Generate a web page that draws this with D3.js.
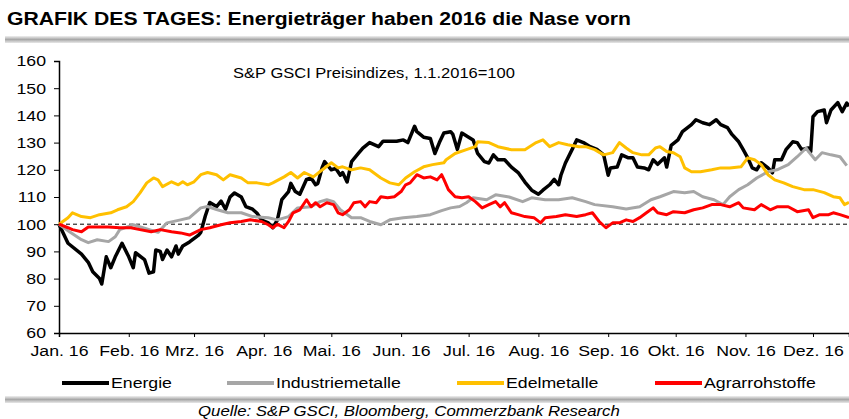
<!DOCTYPE html>
<html>
<head>
<meta charset="utf-8">
<title>Grafik des Tages</title>
<script src="https://d3js.org/d3.v7.min.js"></script>
<style>
  body { margin: 0; background: #fff; }
  text { font-family: "Liberation Sans", Arial, sans-serif; fill: #000; }
</style>
</head>
<body>
<div id="chart"></div>
<script>
// Tage seit 1.1.2016 und Indexwerte (1.1.2016 = 100)
var monate = ["Jan. 16", "Feb. 16", "Mrz. 16", "Apr. 16", "Mai. 16", "Jun. 16", "Jul. 16", "Aug. 16", "Sep. 16", "Okt. 16", "Nov. 16", "Dez. 16"];
var yTicks = [60, 70, 80, 90, 100, 110, 120, 130, 140, 150, 160];

var energieTage = [0,4,10,13,15,18,19,21,23,25,28,31,33,34,38,40,42,43,45,46,48,50,52,53,55,58,62,63,65,67,70,72,74,76,78,81,83,86,88,90,93,95,97,99,102,103,105,107,110,112,114,115,117,118,121,123,125,126,128,130,133,135,138,142,144,147,150,153,155,156,158,159,162,165,167,169,171,174,175,177,179,182,184,186,189,191,193,195,198,201,204,207,210,213,215,218,220,222,223,225,228,230,233,236,239,242,244,245,248,250,253,255,257,260,262,264,266,269,270,272,275,277,281,283,286,289,292,294,297,299,302,304,306,308,310,312,315,317,318,321,323,326,328,330,333,334,335,337,340,341,343,346,348,350,351];
var energieWerte = [100,93,89,86,82.5,80,78,88,84,88,93,88,84,89.5,87,82,82.5,90.5,90,87,90.5,88,92,89,92,93.5,96,97,103,108,106.5,108.5,105.5,110,111.5,110,106.5,105.5,104,101.5,100.5,98.7,101.5,109,112,115,112,111,116.5,117,114.5,115,121,123,120,120.5,118,119,115.5,123,126,128,130,128.5,130.5,130.5,130.5,131,130,132,136,134,132,131.5,126,130,133.5,134,133,127.5,133.5,132,131,126,123,122.5,125.5,123.7,123.7,121,119,115.5,112.5,111,112.5,114.5,116.5,114.5,118,122.5,127.5,131,130,128.5,127.5,125.5,118,120.7,121,125.5,124.4,124.4,121,120.7,120,123.7,122,124.4,121,129,131,134,136.6,138.4,137.3,136.6,138.4,136.6,135.5,133,130.3,127.4,124.4,120.7,120,122.6,120.7,118.9,123.7,123.7,127.4,130.3,130,127.4,128,126.7,139.5,141.4,142,137.3,142,144.7,141.4,144.5,143.4];

var industrieTage = [0,5,10,13,17,22,25,27,33,38,44,48,54,58,63,66,70,75,81,86,93,97,102,106,112,116,119,122,125,130,134,138,143,147,153,159,165,170,174,178,181,184,190,194,200,206,210,216,222,228,234,238,246,252,258,263,267,273,278,282,286,291,295,298,302,306,310,315,319,324,328,332,333,336,339,343,347,350];
var industrieWerte = [100,97,94.3,93.2,94.3,93.6,95.4,98,99.8,98.5,97,100.5,101.6,102.4,106,106.5,105.4,104.2,104.2,102.8,102.4,101.6,102.8,106,106.4,108.3,109,108.3,105.3,102.4,102.4,101,99.8,101.6,102.4,102.8,103.5,105,106,106.5,107.9,109.7,109,110.8,110,108.3,109.7,109,109,109.7,108.3,107.2,106.4,105.6,106.4,109,110.1,112,111.6,112,110.1,109,107.2,110.1,112.7,114.5,117,119.3,120,121.9,124.8,128,126.7,123.7,126.3,125.5,124.8,121.5];

var edelTage = [0,4,6,10,14,18,23,26,30,33,36,39,42,44,46,50,53,55,57,60,63,66,70,73,76,81,84,88,93,95,100,103,106,109,113,117,121,124,126,130,134,138,143,147,151,154,158,162,166,171,172,176,181,185,186,191,195,201,207,212,215,218,222,226,231,234,238,242,246,249,252,255,259,262,265,267,270,273,276,278,281,285,290,294,298,303,306,309,312,315,318,322,326,331,335,340,344,347,349,351];
var edelWerte = [100,102.4,104.2,102.8,102.4,103.5,104.2,105.3,106.4,108.3,111.5,115.2,117,116.3,113.8,115.6,114.5,115.6,114.5,115.6,118.2,119,118.2,116.3,118.2,117,115.2,115.2,114.5,115.2,117.4,119,117,119,117.4,120,122.6,120.7,121.1,120,120.7,120,117,115.2,114.5,117,119.3,121.1,121.9,122.6,123.7,126,127.4,128.5,130.3,130,128.5,127.4,127.4,130,131,128.5,130,129.2,128.5,128.5,127.4,125.5,126.3,130,128,126.3,125.5,125.5,128,128.5,126.7,126.3,124.8,120.7,119.3,119.3,120,120.7,120.7,121.1,124.4,123.7,121.9,118.2,116.3,115.2,113.8,112.7,112.7,111.6,110.1,109.7,107.2,108];

var agrarTage = [0,4,6,10,13,17,22,27,32,36,41,45,50,54,58,63,67,72,76,81,85,90,93,95,97,100,102,104,107,110,112,114,116,119,122,124,126,129,131,134,136,138,141,143,146,149,152,154,156,159,162,165,168,170,171,173,176,179,182,185,188,191,194,196,198,201,204,207,211,214,216,221,225,230,234,237,240,243,246,249,252,255,258,261,264,266,270,273,278,282,286,290,294,298,302,304,309,312,316,319,324,328,333,335,338,342,344,347,351];
var agrarWerte = [100,98.7,98,97.2,99,99,99,98.7,98.7,98,97.2,98,97.2,96.8,96,98,98.7,99.8,100.5,101,101.6,101,99.8,98.7,100,98.7,101,104.2,105.3,109,106.4,107.9,106.4,107.9,107.2,104.2,103.5,105.3,107.9,108.3,106.4,108.3,107.9,110.1,109.7,110.1,112,114.5,115.2,118.2,117,117.4,116.3,118.2,116.5,112.7,110.1,109.7,110.1,108.3,106,107.2,108.3,106.4,107.9,104.2,103.5,102.8,102.4,100.5,102.4,102.8,103.5,102.8,103.5,104.2,101,98.7,100.5,100.5,101.6,101,102.4,104.2,106,104.2,103.5,104.6,104.2,105.3,106,107.2,107.2,106.4,107.9,106,105.3,107.2,105.3,106.4,106.4,104.6,105.3,102.4,103.5,103.5,104.2,103.5,102.4];

var reihen = [
  { name: "Energie", farbe: "#000000", breite: 3.5, tage: energieTage, werte: energieWerte },
  { name: "Industriemetalle", farbe: "#a6a6a6", breite: 3, tage: industrieTage, werte: industrieWerte },
  { name: "Edelmetalle", farbe: "#ffc000", breite: 3, tage: edelTage, werte: edelWerte },
  { name: "Agrarrohstoffe", farbe: "#ff0000", breite: 3, tage: agrarTage, werte: agrarWerte }
];

var width = 849, height = 419;
var start = new Date(2016, 0, 1);
var ende = d3.timeDay.offset(start, 351);
var plotLeft = 59, plotRight = 849, plotTop = 61, plotBottom = 333;
var stretch = 1.18; // Schrift im Original leicht in die Breite gezogen

var svg = d3.select("#chart").append("svg").attr("width", width).attr("height", height);

var x = d3.scaleTime().domain([start, ende]).range([plotLeft, plotRight]);
var y = d3.scaleLinear().domain([60, 160]).range([plotBottom, plotTop]);

// Titel
svg.append("text").attr("x", 7).attr("y", 25)
  .style("font-size", "18px").style("font-weight", "bold")
  .attr("textLength", 624).attr("lengthAdjust", "spacingAndGlyphs")
  .text("GRAFIK DES TAGES: Energieträger haben 2016 die Nase vorn");

var grad = svg.append("defs").append("linearGradient").attr("id", "balken")
  .attr("x1", 0).attr("y1", 0).attr("x2", 0).attr("y2", 1);
grad.append("stop").attr("offset", "0%").attr("stop-color", "#f0f0f0");
grad.append("stop").attr("offset", "50%").attr("stop-color", "#a8a8a8");
grad.append("stop").attr("offset", "100%").attr("stop-color", "#e8e8e8");

svg.append("rect").attr("x", 5).attr("y", 36).attr("width", 844).attr("height", 7).attr("fill", "url(#balken)");
svg.append("rect").attr("x", 5).attr("y", 396).attr("width", 844).attr("height", 7).attr("fill", "url(#balken)");

// Achsen
var yAxis = svg.append("g").attr("transform", "translate(" + plotLeft + ",0)")
  .call(d3.axisLeft(y).tickValues(yTicks).tickSize(5).tickPadding(7));
yAxis.select(".domain").attr("stroke-width", 1.5);
yAxis.selectAll("text").style("font-size", "15px").attr("font-family", null)
  .attr("x", -13 / stretch).attr("transform", "scale(" + stretch + ",1)");

var monatsTicks = d3.timeMonth.range(start, ende);
var xAxis = svg.append("g").attr("transform", "translate(0," + plotBottom + ")")
  .call(d3.axisBottom(x).tickValues(monatsTicks).tickSize(4).tickPadding(8)
    .tickFormat(function(d, i) { return monate[i]; }));
xAxis.select(".domain").attr("stroke-width", 1.5);
xAxis.selectAll("text").style("font-size", "15px").attr("font-family", null)
  .attr("transform", "scale(" + stretch + ",1)");

// Basislinie 100
svg.append("line").attr("x1", plotLeft).attr("x2", plotRight)
  .attr("y1", y(100)).attr("y2", y(100))
  .attr("stroke", "#000").attr("stroke-width", 1).attr("stroke-dasharray", "4,3");

svg.append("text").attr("transform", "translate(374,78) scale(" + stretch + ",1)")
  .attr("text-anchor", "middle")
  .style("font-size", "14px").text("S&P GSCI Preisindizes, 1.1.2016=100");

var linie = d3.line()
  .x(function(d) { return x(d3.timeDay.offset(start, d[0])); })
  .y(function(d) { return y(d[1]); });

reihen.forEach(function(r) {
  var pts = d3.zip(r.tage, r.werte);
  svg.append("path").datum(pts)
    .attr("d", linie)
    .attr("fill", "none")
    .attr("stroke", r.farbe)
    .attr("stroke-width", r.breite)
    .attr("stroke-linejoin", "round");
});

// Legende
var legX = [62, 227, 457, 655];
reihen.forEach(function(r, i) {
  var g = svg.append("g").attr("transform", "translate(" + legX[i] + ",383)");
  g.append("line").attr("x1", 0).attr("x2", 47).attr("y1", 0).attr("y2", 0)
    .attr("stroke", r.farbe).attr("stroke-width", 4);
  g.append("text").attr("transform", "translate(49,5) scale(" + stretch + ",1)")
    .style("font-size", "15px").text(r.name);
});

svg.append("text").attr("transform", "translate(198,416) scale(1.12,1)")
  .style("font-size", "15px").style("font-style", "italic")
  .text("Quelle: S&P GSCI, Bloomberg, Commerzbank Research");
</script>
</body>
</html>
